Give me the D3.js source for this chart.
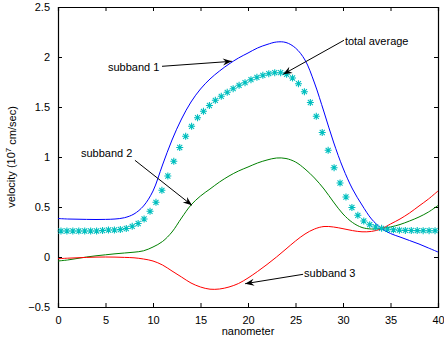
<!DOCTYPE html>
<html>
<head>
<meta charset="utf-8">
<script src="https://cdn.jsdelivr.net/npm/d3@7"></script>
<style>
  body { margin: 0; background: #fff; }
  svg { display: block; }
  text { font-family: "Liberation Sans", Arial, sans-serif; }
</style>
</head>
<body>
<div id="vis"><svg></svg></div>
<script>
// tick values
var xTicks = [0, 5, 10, 15, 20, 25, 30, 35, 40];
var yTicks = [-0.5, 0, 0.5, 1, 1.5, 2, 2.5];

// position grid for the solid lines (nanometer)
var nm = [0,1,2,3,4,5,6,7,8,9,10,11,12,13,14,15,16,17,18,19,20,
          21,22,23,24,25,26,27,28,29,30,31,32,33,34,35,36,37,38,39,40];

var subband1 = [0.385,0.38,0.378,0.376,0.375,0.376,0.38,0.393,0.43,0.51,0.66,
                0.92,1.17,1.38,1.55,1.68,1.78,1.86,1.93,1.99,2.04,
                2.09,2.125,2.15,2.145,2.09,1.97,1.74,1.45,1.15,0.89,
                0.68,0.52,0.38,0.29,0.235,0.2,0.165,0.13,0.09,0.05];

var subband2 = [-0.04,-0.03,-0.015,0,0.012,0.022,0.032,0.04,0.048,0.062,0.1,
                0.155,0.25,0.39,0.52,0.61,0.68,0.75,0.81,0.86,0.9,
                0.94,0.97,0.99,0.985,0.95,0.88,0.79,0.68,0.55,0.43,
                0.345,0.295,0.28,0.285,0.3,0.325,0.36,0.4,0.45,0.515];

var subband3 = [-0.017,-0.012,-0.008,-0.004,-0.001,0,-0.001,-0.004,-0.008,-0.02,-0.04,
                -0.08,-0.14,-0.2,-0.26,-0.3,-0.322,-0.32,-0.3,-0.265,-0.21,
                -0.145,-0.075,0,0.08,0.16,0.23,0.28,0.305,0.3,0.283,
                0.264,0.252,0.256,0.28,0.33,0.38,0.44,0.51,0.58,0.66];

// total average, sampled at star positions
var avgX = [0.3125,0.9375,1.5625,2.1875,2.8125,3.4375,4.0625,4.6875,5.3125,5.9375,
            6.5625,7.1875,7.8125,8.4375,9.0625,9.6875,10.3125,10.9375,11.5625,12.1875,
            12.8125,13.4375,14.0625,14.6875,15.3125,15.9375,16.5625,17.1875,17.8125,18.4375,
            19.0625,19.6875,20.3125,20.9375,21.5625,22.1875,22.8125,23.4375,24.0625,24.6875,
            25.3125,25.9375,26.5625,27.1875,27.8125,28.4375,29.0625,29.6875,30.3125,30.9375,
            31.5625,32.1875,32.8125,33.4375,34.0625,34.6875,35.3125,35.9375,36.5625,37.1875,
            37.8125,38.4375,39.0625,39.6875];
var avgV = [0.26,0.26,0.26,0.26,0.26,0.26,0.26,0.265,0.27,0.27,
            0.275,0.285,0.307,0.335,0.38,0.457,0.547,0.667,0.81,0.957,
            1.095,1.207,1.307,1.393,1.457,1.515,1.567,1.607,1.647,1.683,
            1.717,1.743,1.773,1.797,1.817,1.833,1.843,1.843,1.827,1.79,
            1.733,1.653,1.545,1.407,1.245,1.067,0.893,0.74,0.6,0.495,
            0.417,0.36,0.323,0.3,0.287,0.277,0.272,0.268,0.266,0.265,
            0.264,0.263,0.263,0.263];

// annotations: label, text anchor point, line start, arrow tip (data units)
var notes = [
  {label: "subband 1", tx: 5.26, ty: 1.90, x0: 10.95, y0: 1.907, x1: 18.3, y1: 1.957},
  {label: "total average", tx: 30.2, ty: 2.16, x0: 30.1, y0: 2.167, x1: 23.7, y1: 1.827},
  {label: "subband 2", tx: 2.42, ty: 1.037, x0: 8.1, y0: 0.967, x1: 14.1, y1: 0.517},
  {label: "subband 3", tx: 25.9, ty: -0.16, x0: 25.8, y0: -0.173, x1: 19.7, y1: -0.267}
];

var margin = {top: 7, right: 6, bottom: 38, left: 58},
    width = 444 - margin.left - margin.right,
    height = 345 - margin.top - margin.bottom;

var svg = d3.select("#vis").select("svg")
    .attr("width", 444)
    .attr("height", 345)
  .append("g")
    .attr("transform", "translate(" + margin.left + "," + margin.top + ")");

var x = d3.scaleLinear().domain([0, 40]).range([0, width]);
var y = d3.scaleLinear().domain([-0.5, 2.5]).range([height, 0]);

var fmt = function(d) { return d3.format("")(d).replace("-", "\u2212"); };

// axes with inward ticks, box style
svg.append("g")
  .attr("class", "axis")
  .attr("transform", "translate(0," + height + ")")
  .call(d3.axisBottom(x).tickValues(xTicks).tickSize(-4).tickPadding(9).tickFormat(fmt));
svg.append("g")
  .attr("class", "axis")
  .call(d3.axisTop(x).tickValues(xTicks).tickSize(-4).tickFormat(""));
svg.append("g")
  .attr("class", "axis")
  .call(d3.axisLeft(y).tickValues(yTicks).tickSize(-4).tickPadding(8).tickFormat(fmt));
svg.append("g")
  .attr("class", "axis")
  .attr("transform", "translate(" + width + ",0)")
  .call(d3.axisRight(y).tickValues(yTicks).tickSize(-4).tickFormat(""));

svg.selectAll(".axis path").attr("stroke", "#000").attr("stroke-width", 1.2);
svg.selectAll(".axis line").attr("stroke", "#000");
svg.selectAll(".axis text").attr("fill", "#000").style("font-size", "11px")
  .style("font-family", "'Liberation Sans', Arial, sans-serif");

// lines
var line = d3.line()
  .x(function(d) { return x(d[0]); })
  .y(function(d) { return y(d[1]); })
  .curve(d3.curveCatmullRom);

var series = [
  {name: "subband 1", values: subband1, color: "#0000ff"},
  {name: "subband 2", values: subband2, color: "#008000"},
  {name: "subband 3", values: subband3, color: "#ff0000"}
];

svg.selectAll("myLines")
  .data(series)
  .enter()
  .append("path")
    .attr("d", function(d) { return line(d.values.map(function(v, i) { return [nm[i], v]; })); })
    .attr("stroke", function(d) { return d.color; })
    .style("stroke-width", 1)
    .style("fill", "none");

// asterisk markers for total average
var r = 3.5, rd = r * 0.72;
var star = "M" + (-r) + ",0L" + r + ",0M0," + (-r) + "L0," + r +
           "M" + (-rd) + "," + (-rd) + "L" + rd + "," + rd +
           "M" + (-rd) + "," + rd + "L" + rd + "," + (-rd);
svg.selectAll("myStars")
  .data(avgV)
  .enter()
  .append("path")
    .attr("d", star)
    .attr("transform", function(d, i) { return "translate(" + x(avgX[i]) + "," + y(d) + ")"; })
    .attr("stroke", "#00bfbf")
    .attr("stroke-width", 1.1)
    .attr("fill", "none");

// annotations with arrows
var ann = svg.selectAll("myNotes")
  .data(notes)
  .enter()
  .append("g");

ann.append("line")
  .attr("x1", function(d) { return x(d.x0); })
  .attr("y1", function(d) { return y(d.y0); })
  .attr("x2", function(d) { return x(d.x1); })
  .attr("y2", function(d) { return y(d.y1); })
  .attr("stroke", "#000")
  .attr("stroke-width", 1);

ann.append("path")
  .attr("d", function(d) {
    var tx = x(d.x1), ty = y(d.y1);
    var a = Math.atan2(y(d.y0) - ty, x(d.x0) - tx);
    var L = 9, W = 3.5, N = 6;
    var bx = tx + L * Math.cos(a), by = ty + L * Math.sin(a);
    var nx = tx + N * Math.cos(a), ny = ty + N * Math.sin(a);
    var px = -Math.sin(a) * W, py = Math.cos(a) * W;
    return "M" + tx + "," + ty + "L" + (bx + px) + "," + (by + py) +
           "L" + nx + "," + ny + "L" + (bx - px) + "," + (by - py) + "Z";
  })
  .attr("fill", "#000");

ann.append("text")
  .attr("x", function(d) { return x(d.tx); })
  .attr("y", function(d) { return y(d.ty); })
  .attr("dy", "0.35em")
  .style("font-size", "11px")
  .text(function(d) { return d.label; });

// axis labels
svg.append("text")
  .attr("x", width / 2)
  .attr("y", height + 28)
  .attr("text-anchor", "middle")
  .style("font-size", "11px")
  .text("nanometer");

var yl = svg.append("text")
  .attr("transform", "translate(" + (-43) + "," + (height / 2) + ") rotate(-90)")
  .attr("text-anchor", "middle")
  .style("font-size", "11px");
yl.append("tspan").text("velocity (10");
yl.append("tspan").attr("dy", "-0.45em").style("font-size", "8px").text("7");
yl.append("tspan").attr("dy", "0.45em").text(" cm/sec)");
</script>
</body>
</html>
